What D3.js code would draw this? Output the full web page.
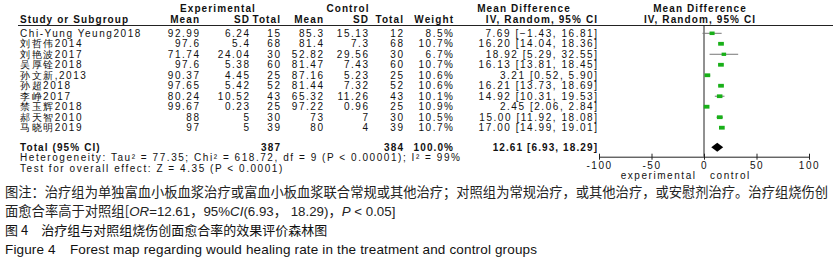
<!DOCTYPE html>
<html><head><meta charset="utf-8">
<script src="https://cdn.jsdelivr.net/npm/d3@7"></script>
<style>
html,body{margin:0;padding:0;background:#fff;}
svg{display:block;}
.t{font-family:"Liberation Sans",Arial,sans-serif;font-size:10px;fill:#111;letter-spacing:1.55px;}
.b{font-weight:bold;letter-spacing:1.1px;}
.cjk{font-family:"Noto Sans CJK SC",sans-serif;}
</style>
</head><body>
<svg id="c" width="833" height="267"></svg>
<script>
const studies = ["Chi-Yung Yeung2018","刘哲伟2014","刘艳波2017","吴厚铨2018","孙文新,2013","孙超2018","李峥2017","禁玉辉2018","郝天智2010","马晓明2019"];
const expMean = ["92.99","97.6","71.74","97.6","90.37","97.65","80.24","99.67","88","97"];
const expSD = ["6.24","5.4","24.04","5.38","4.45","5.42","10.52","0.23","5","5"];
const expN = [15,68,30,60,25,52,43,25,30,39];
const ctlMean = ["85.3","81.4","52.82","81.47","87.16","81.44","65.32","97.22","73","80"];
const ctlSD = ["15.13","7.3","29.56","7.43","5.23","7.32","11.26","0.96","7","4"];
const ctlN = [12,68,30,60,25,52,43,25,30,39];
const weight = [8.5,10.7,6.7,10.7,10.6,10.6,10.1,10.9,10.5,10.7];
const md = [7.69,16.20,18.92,16.13,3.21,16.21,14.92,2.45,15.00,17.00];
const ciLo = [-1.43,14.04,5.29,13.81,0.52,13.73,10.31,2.06,11.92,14.99];
const ciHi = [16.81,18.36,32.55,18.45,5.90,18.69,19.53,2.84,18.08,19.01];
const totalExp = 387, totalCtl = 384, totalMD = 12.61, totalLo = 6.93, totalHi = 18.29;
const axisTicks = [-100,-50,0,50,100];
const heterogeneity = "Heterogeneity: Tau² = 77.35; Chi² = 618.72, df = 9 (P < 0.00001); I² = 99%";
const overall = "Test for overall effect: Z = 4.35 (P < 0.0001)";
const captions = [
 "图注：治疗组为单独富血小板血浆治疗或富血小板血浆联合常规或其他治疗；对照组为常规治疗，或其他治疗，或安慰剂治疗。治疗组烧伤创",
 "面愈合率高于对照组[",
 "图 4　治疗组与对照组烧伤创面愈合率的效果评价森林图",
 "Figure 4　Forest map regarding would healing rate in the treatment and control groups"
];

const svg = d3.select("#c");
const x = d3.scaleLinear().domain([-100,100]).range([599,809]);
const rowY = d3.scaleLinear().domain([0,9]).range([33.3,127.7]);
const fmt2 = d3.format(".2f");
const LS = 1.55;
const txt = (xx,yy,s,anchor,cls) => {
  const bold = cls && cls.indexOf("b")>=0;
  const shift = anchor==="end" ? (bold?1.1:LS) : 0; // compensate trailing letter-spacing
  return svg.append("text").attr("class","t "+(cls||"")).attr("x",xx+shift).attr("y",yy).attr("text-anchor",anchor||"start").text(s);
};

// headers
txt(218,12,"Experimental","middle","b");
txt(348,12,"Control","middle","b");
txt(524,12,"Mean Difference","middle","b");
txt(700,12,"Mean Difference","middle","b");
const hy = 23;
txt(20,hy,"Study or Subgroup","start","b");
txt(199,hy,"Mean","end","b");
txt(249,hy,"SD","end","b");
txt(280,hy,"Total","end","b");
txt(323,hy,"Mean","end","b");
txt(368,hy,"SD","end","b");
txt(403,hy,"Total","end","b");
txt(453,hy,"Weight","end","b");
txt(597,hy,"IV, Random, 95% CI","end","b");
txt(700,hy,"IV, Random, 95% CI","middle","b");
svg.append("line").attr("x1",18).attr("x2",833).attr("y1",25.5).attr("y2",25.5).attr("stroke","#222").attr("stroke-width",1);

// rows
studies.forEach((s,i)=>{
  const yy = rowY(i)+3.6;
  txt(20,yy,s,"start","");
  txt(199,yy,expMean[i],"end");
  txt(249,yy,expSD[i],"end");
  txt(280,yy,expN[i],"end");
  txt(323,yy,ctlMean[i],"end");
  txt(368,yy,ctlSD[i],"end");
  txt(403,yy,ctlN[i],"end");
  txt(453,yy,weight[i].toFixed(1)+"%","end");
  txt(597,yy,`${fmt2(md[i])} [${fmt2(ciLo[i])}, ${fmt2(ciHi[i])}]`,"end");
});

// zero line
const yAxis = 156.7;
svg.append("line").attr("x1",x(0)).attr("x2",x(0)).attr("y1",25.5).attr("y2",yAxis).attr("stroke","#222").attr("stroke-width",1);

// CI lines and squares
const g = svg.append("g");
studies.forEach((s,i)=>{
  const cy = rowY(i);
  g.append("line").attr("x1",x(ciLo[i])).attr("x2",x(ciHi[i])).attr("y1",cy).attr("y2",cy).attr("stroke","#777").attr("stroke-width",1);
  const w = 2.5 + weight[i]*0.3, h = 2.5 + weight[i]*0.12;
  g.append("rect").attr("x",x(md[i])-w/2).attr("y",cy-h/2).attr("width",w).attr("height",h).attr("fill","#19b019");
});

// total row
const ty = 147.3;
txt(20,ty+3.3,"Total (95% CI)","start","b");
txt(280,ty+3.3,totalExp,"end","b");
txt(403,ty+3.3,totalCtl,"end","b");
txt(453,ty+3.3,"100.0%","end","b");
txt(597,ty+3.3,`${fmt2(totalMD)} [${fmt2(totalLo)}, ${fmt2(totalHi)}]`,"end","b");
svg.append("path").attr("d",`M${x(totalLo)},${ty} L${x(totalMD)},${ty-4.5} L${x(totalHi)},${ty} L${x(totalMD)},${ty+4.5} Z`).attr("fill","#000");
txt(20,161,heterogeneity,"start");
txt(20,171.5,overall,"start");

// axis
const ax = svg.append("g").attr("transform",`translate(0,${yAxis})`).call(d3.axisBottom(x).tickValues(axisTicks).tickSize(3).tickSizeOuter(0).tickFormat(d=>String(d)));
ax.select(".domain").attr("stroke","#222");
ax.selectAll(".tick line").attr("y1",-3).attr("y2",3).attr("stroke","#222");
ax.selectAll(".tick text").attr("class","t").attr("y",12).attr("dy",null).attr("fill","#111");
txt(695,179,"experimental","end");
txt(710,179,"control","start");

// captions
svg.append("text").attr("class","cjk").attr("x",5).attr("y",197).attr("font-size",13.3).attr("fill","#222").attr("textLength",823).attr("lengthAdjust","spacingAndGlyphs").text(captions[0]);
const c2 = svg.append("text").attr("x",5).attr("y",216).attr("font-size",13.3).attr("fill","#222");
c2.append("tspan").attr("class","cjk").text(captions[1]);
c2.append("tspan").style("font-family","Liberation Sans, Arial").style("font-style","italic").text("OR");
c2.append("tspan").style("font-family","Liberation Sans, Arial").text("=12.61");
c2.append("tspan").attr("class","cjk").text("，");
c2.append("tspan").style("font-family","Liberation Sans, Arial").text("95%");
c2.append("tspan").style("font-family","Liberation Sans, Arial").style("font-style","italic").text("CI");
c2.append("tspan").style("font-family","Liberation Sans, Arial").text("(6.93");
c2.append("tspan").attr("class","cjk").text("，");
c2.append("tspan").style("font-family","Liberation Sans, Arial").text(" 18.29)");
c2.append("tspan").attr("class","cjk").text("，");
c2.append("tspan").style("font-family","Liberation Sans, Arial").style("font-style","italic").text("P");
c2.append("tspan").style("font-family","Liberation Sans, Arial").text(" < 0.05]");
svg.append("text").attr("class","cjk").attr("x",5).attr("y",235).attr("font-size",13).attr("fill","#111").text(captions[2]);
svg.append("text").attr("x",5).attr("y",254).attr("font-size",13.5).attr("fill","#111").attr("textLength",532).style("font-family","Liberation Sans, Arial").text(captions[3]);
</script>
</body></html>
